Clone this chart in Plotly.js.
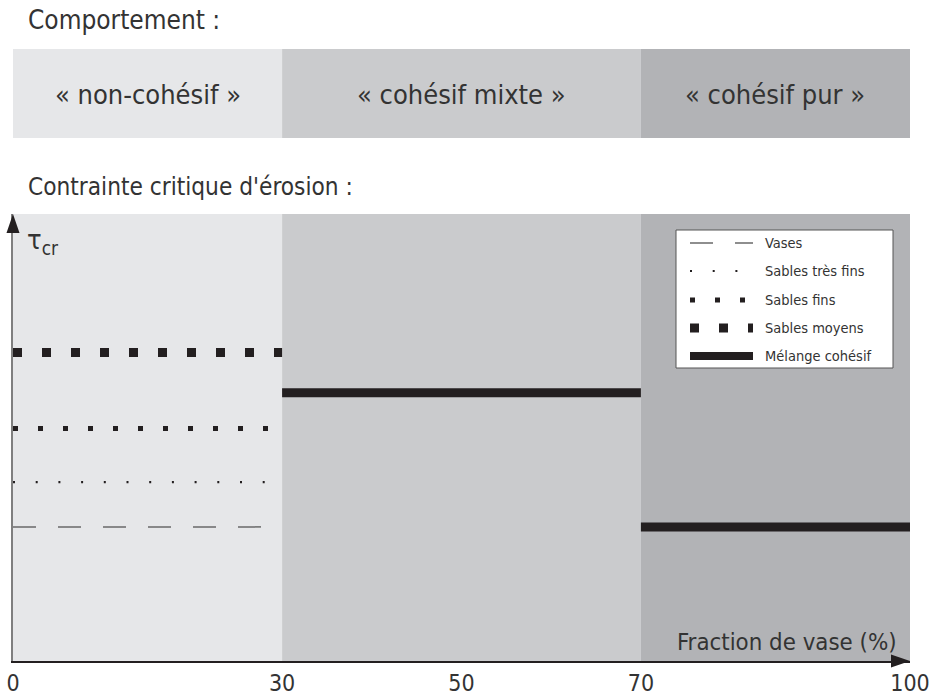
<!DOCTYPE html>
<html>
<head>
<meta charset="utf-8">
<script src="https://cdn.plot.ly/plotly-3.0.1.min.js"></script>
<style>html,body{margin:0;padding:0;background:#fff;}</style>
</head>
<body>
<div id="chart" style="width:930px;height:697px;"></div>
<script>
// ---- data ----
const zoneBounds = [0, 30, 70, 100];
const zoneLabels = ['« non-cohésif »', '« cohésif mixte »', '« cohésif pur »'];
const xTickVals = [0, 30, 50, 70, 100];
const seriesNames = ['Vases', 'Sables très fins', 'Sables fins', 'Sables moyens', 'Mélange cohésif'];
const sandX = [0, 30];
const vasesY = [3.0, 3.0];
const sablesTresFinsY = [4.0, 4.0];
const sablesFinsY = [5.2, 5.2];
const sablesMoyensY = [6.9, 6.9];
const melangeMixteX = [30, 70];
const melangeMixteY = [6.0, 6.0];
const melangePurX = [70, 100];
const melangePurY = [3.0, 3.0];

// ---- styles ----
const FONT = '"Liberation Sans Narrow", "DejaVu Sans Condensed", "Arial Narrow", sans-serif';
const TXT = '#333333';
const zoneColors = ['#e6e7e9', '#cacbcd', '#b2b3b6'];
const styles = {
  'Vases': {color: '#6a6a6a', width: 1.5, dash: '23px,22px'},
  'Sables très fins': {color: '#231f20', width: 2.2, dash: '2px,20.7px'},
  'Sables fins': {color: '#231f20', width: 5, dash: '5px,20px'},
  'Sables moyens': {color: '#231f20', width: 9, dash: '9px,20px'},
  'Mélange cohésif': {color: '#231f20', width: 9, dash: 'solid'}
};

function tr(x, y, name) {
  const s = styles[name];
  return {x: x, y: y, type: 'scatter', mode: 'lines', name: name, showlegend: false,
    hoverinfo: 'skip', line: {color: s.color, width: s.width, dash: s.dash}};
}
const data = [
  tr(sandX, vasesY, seriesNames[0]),
  tr(sandX, sablesTresFinsY, seriesNames[1]),
  tr(sandX, sablesFinsY, seriesNames[2]),
  tr(sandX, sablesMoyensY, seriesNames[3]),
  tr(melangeMixteX, melangeMixteY, seriesNames[4]),
  tr(melangePurX, melangePurY, seriesNames[4])
];

// ---- layout decoration ----
const W = 930, H = 697, ML = 13, MR = 20, MT = 214, MB = 36;
const PW = W - ML - MR, PH = H - MT - MB;
const px2paperX = p => (p - ML) / PW;
const px2paperY = p => (H - MB - p) / PH;

const shapes = [];
const annotations = [];
for (let i = 0; i < zoneLabels.length; i++) {
  shapes.push({type: 'rect', layer: 'below', xref: 'x', yref: 'paper',
    x0: zoneBounds[i], x1: zoneBounds[i + 1], y0: 0, y1: 1,
    fillcolor: zoneColors[i], line: {width: 0}});
  shapes.push({type: 'rect', layer: 'below', xref: 'x', yref: 'paper',
    x0: i === 0 ? zoneBounds[i] - 0.56 : zoneBounds[i], x1: zoneBounds[i + 1],
    y0: px2paperY(138), y1: px2paperY(49),
    fillcolor: zoneColors[i], line: {width: 0}});
  annotations.push({xref: 'x', yref: 'paper', x: (zoneBounds[i] + zoneBounds[i + 1]) / 2,
    y: px2paperY(95), text: zoneLabels[i], showarrow: false,
    xanchor: 'center', yanchor: 'middle', font: {family: FONT, size: 27, color: TXT}});
}

// axis arrows
shapes.push({type: 'path', xref: 'paper', yref: 'paper', xsizemode: 'pixel', ysizemode: 'pixel',
  xanchor: 1, yanchor: 0,
  path: 'M-19,-6.5 L0,0 L-19,6.5 Z', fillcolor: '#231f20', line: {width: 0}});
shapes.push({type: 'path', xref: 'paper', yref: 'paper', xsizemode: 'pixel', ysizemode: 'pixel',
  xanchor: 0, yanchor: 1,
  path: 'M-6.5,-19 L0,0 L6.5,-19 Z', fillcolor: '#231f20', line: {width: 0}});

// manual legend
shapes.push({type: 'rect', xref: 'paper', yref: 'paper',
  x0: px2paperX(676), x1: px2paperX(893), y0: px2paperY(368), y1: px2paperY(230),
  fillcolor: '#ffffff', line: {color: '#555555', width: 1}});
const legRowsPx = [243, 271, 300, 328, 356];
seriesNames.forEach((name, i) => {
  const s = styles[name];
  const yy = px2paperY(legRowsPx[i]);
  shapes.push({type: 'line', xref: 'paper', yref: 'paper',
    x0: px2paperX(690), x1: px2paperX(753), y0: yy, y1: yy,
    line: {color: s.color, width: name === 'Mélange cohésif' ? 8 : s.width, dash: s.dash}});
  annotations.push({xref: 'paper', yref: 'paper', x: px2paperX(763), y: yy,
    text: name, showarrow: false, xanchor: 'left', yanchor: 'middle',
    font: {family: FONT, size: 14.5, color: TXT}});
});

// texts
annotations.push({xref: 'paper', yref: 'paper', x: px2paperX(26), y: px2paperY(20),
  text: 'Comportement :', showarrow: false, xanchor: 'left', yanchor: 'middle',
  font: {family: FONT, size: 26, color: TXT}});
annotations.push({xref: 'paper', yref: 'paper', x: px2paperX(26), y: px2paperY(187),
  text: "Contrainte critique d'érosion :", showarrow: false, xanchor: 'left', yanchor: 'middle',
  font: {family: FONT, size: 24.2, color: TXT}});
annotations.push({xref: 'paper', yref: 'paper', x: px2paperX(25), y: px2paperY(241),
  text: 'τ<sub>cr</sub>', showarrow: false, xanchor: 'left', yanchor: 'middle',
  font: {family: FONT, size: 27, color: TXT}});
annotations.push({xref: 'paper', yref: 'paper', x: px2paperX(899), y: px2paperY(642),
  text: 'Fraction de vase (%)', showarrow: false, xanchor: 'right', yanchor: 'middle',
  font: {family: FONT, size: 23.8, color: TXT}});

const layout = {
  width: W, height: H,
  margin: {l: ML, r: MR, t: MT, b: MB, pad: 0},
  paper_bgcolor: '#ffffff', plot_bgcolor: '#ffffff',
  showlegend: false,
  xaxis: {range: [0, 100], tickvals: xTickVals, ticktext: xTickVals.map(String),
    showgrid: false, zeroline: false, showline: true, linecolor: '#231f20', linewidth: 2,
    ticks: '', ticklabeloverflow: 'allow', ticklabelstandoff: 0,
    tickfont: {family: FONT, size: 23, color: TXT}, fixedrange: true},
  yaxis: {range: [0, 10], showgrid: false, zeroline: false, showticklabels: false,
    showline: true, linecolor: '#7f7f7f', linewidth: 2, ticks: '', fixedrange: true},
  shapes: shapes,
  annotations: annotations
};

Plotly.newPlot('chart', data, layout, {displayModeBar: false, staticPlot: true});
</script>
</body>
</html>
